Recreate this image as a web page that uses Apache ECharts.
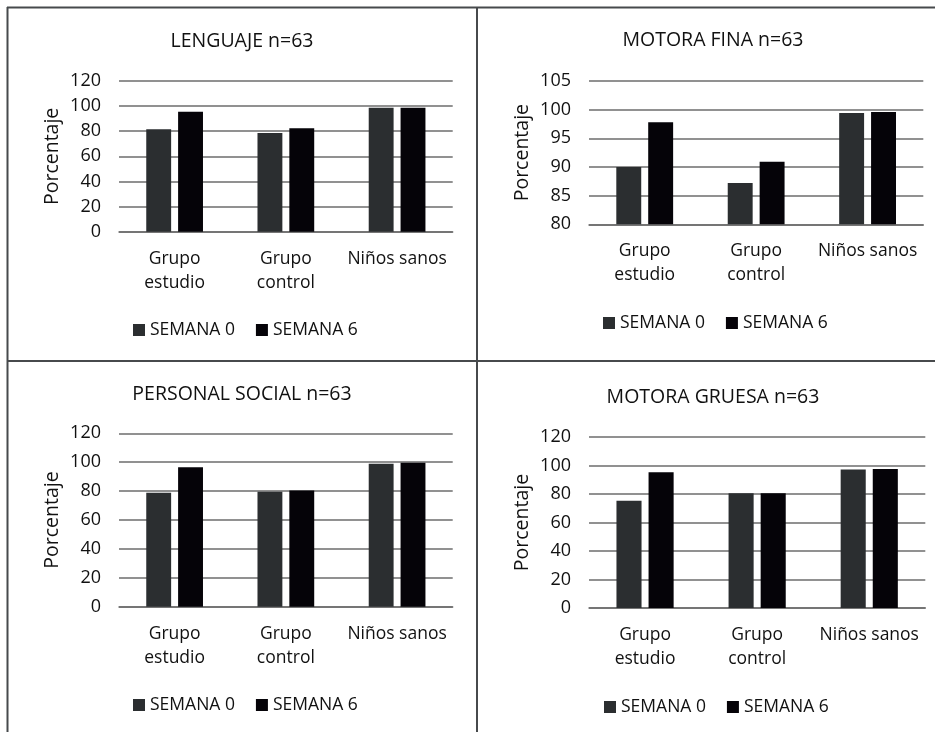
<!DOCTYPE html>
<html>
<head>
<meta charset="utf-8">
<script src="https://cdn.jsdelivr.net/npm/echarts@6/dist/echarts.min.js"></script>
<style>
  html, body { margin: 0; padding: 0; background: #fff; }
  #chart { width: 935px; height: 732px; }
</style>
</head>
<body>
<div id="chart"></div>
<script>
// Categories and legend entries shared by the four panels
const categories = ['Grupo estudio', 'Grupo control', 'Niños sanos'];
const seriesNames = ['SEMANA 0', 'SEMANA 6'];

// Panel titles
const panelTitles = ['LENGUAJE n=63', 'MOTORA FINA n=63', 'PERSONAL SOCIAL n=63', 'MOTORA GRUESA n=63'];

// Percentages per group (week 0 / week 6)
const lenguajeSemana0 = [81.6, 78.6, 98.7];
const lenguajeSemana6 = [95.5, 82.4, 98.7];
const motoraFinaSemana0 = [90.0, 87.2, 99.4];
const motoraFinaSemana6 = [97.8, 90.9, 99.6];
const personalSocialSemana0 = [78.8, 79.5, 99.0];
const personalSocialSemana6 = [96.5, 80.5, 99.7];
const motoraGruesaSemana0 = [75.3, 80.5, 97.2];
const motoraGruesaSemana6 = [95.3, 80.5, 97.6];

// Value-axis tick labels
const ticksPercent = [0, 20, 40, 60, 80, 100, 120];
const ticksMotoraFina = [80, 85, 90, 95, 100, 105];

const panelData = [
  [lenguajeSemana0, lenguajeSemana6],
  [motoraFinaSemana0, motoraFinaSemana6],
  [personalSocialSemana0, personalSocialSemana6],
  [motoraGruesaSemana0, motoraGruesaSemana6]
];
const panelTicks = [ticksPercent, ticksMotoraFina, ticksPercent, ticksPercent];

// Layout of each panel (plot box, title, legend)
const layout = [
  { grid: { left: 119, top: 81, width: 333.7, height: 150.7 }, titleX: 242, titleY: 31, legendX: 133, legendY: 321 },
  { grid: { left: 589, top: 81, width: 334.3, height: 143.3 }, titleX: 713, titleY: 30, legendX: 603, legendY: 314 },
  { grid: { left: 119, top: 433.3, width: 333.7, height: 173.4 }, titleX: 242, titleY: 384, legendX: 133, legendY: 696 },
  { grid: { left: 589, top: 437, width: 336.3, height: 171 }, titleX: 713, titleY: 387, legendX: 604, legendY: 698 }
];

const FONT = '"Open Sans", "Noto Sans", sans-serif';
const TEXT = '#111111';
const GRID_LINE = '#6c6c6c';
const COLORS = ['#2b2e30', '#050308'];

const option = {
  animation: false,
  backgroundColor: '#ffffff',
  textStyle: { fontFamily: FONT, color: TEXT },
  title: [], legend: [], grid: [], xAxis: [], yAxis: [], series: [],
  graphic: []
};

layout.forEach((p, i) => {
  const ticks = panelTicks[i];
  const step = ticks[1] - ticks[0];
  option.grid.push(Object.assign({ containLabel: false }, p.grid));
  option.title.push({
    text: panelTitles[i],
    left: p.titleX, top: p.titleY, textAlign: 'center', padding: 0,
    textStyle: { fontFamily: FONT, fontSize: 19.5, fontWeight: 'normal', color: TEXT }
  });
  option.legend.push({
    data: seriesNames,
    left: p.legendX, top: p.legendY, padding: 0,
    icon: 'rect', itemWidth: 12, itemHeight: 12, itemGap: 21,
    selectedMode: false,
    textStyle: { fontFamily: FONT, fontSize: 17.5, color: TEXT }
  });
  option.xAxis.push({
    type: 'category', gridIndex: i, data: categories,
    axisTick: { show: false },
    axisLine: { lineStyle: { color: GRID_LINE, width: 1.5 } },
    axisLabel: {
      interval: 0, margin: 15, fontFamily: FONT, fontSize: 17.5, color: TEXT, lineHeight: 24,
      formatter: v => v.replace('Grupo ', 'Grupo\n')
    }
  });
  option.yAxis.push({
    type: 'value', gridIndex: i,
    min: ticks[0], max: ticks[ticks.length - 1], interval: step,
    name: 'Porcentaje', nameLocation: 'middle', nameRotate: 90, nameGap: 57,
    nameTextStyle: { fontFamily: FONT, fontSize: 19.5, color: TEXT },
    axisLine: { show: false }, axisTick: { show: false },
    axisLabel: { margin: 18, fontFamily: FONT, fontSize: 18, color: TEXT },
    splitLine: { show: true, lineStyle: { color: GRID_LINE, width: 1.5 } }
  });
  seriesNames.forEach((name, s) => {
    option.series.push({
      type: 'bar', name: name, xAxisIndex: i, yAxisIndex: i,
      data: panelData[i][s],
      barCategoryGap: '49%', barGap: '28%',
      itemStyle: { color: COLORS[s] }
    });
  });
});

// Frame lines separating the four panels
const FRAME = { stroke: '#474a4c', lineWidth: 2 };
[
  [7, 7.5, 935, 7.5],
  [7.5, 7, 7.5, 732],
  [477, 7, 477, 732],
  [7, 361, 935, 361]
].forEach(l => option.graphic.push({
  type: 'line', silent: true,
  shape: { x1: l[0], y1: l[1], x2: l[2], y2: l[3] },
  style: FRAME
}));

const chart = echarts.init(document.getElementById('chart'), null, { renderer: 'canvas' });
chart.setOption(option);
</script>
</body>
</html>
